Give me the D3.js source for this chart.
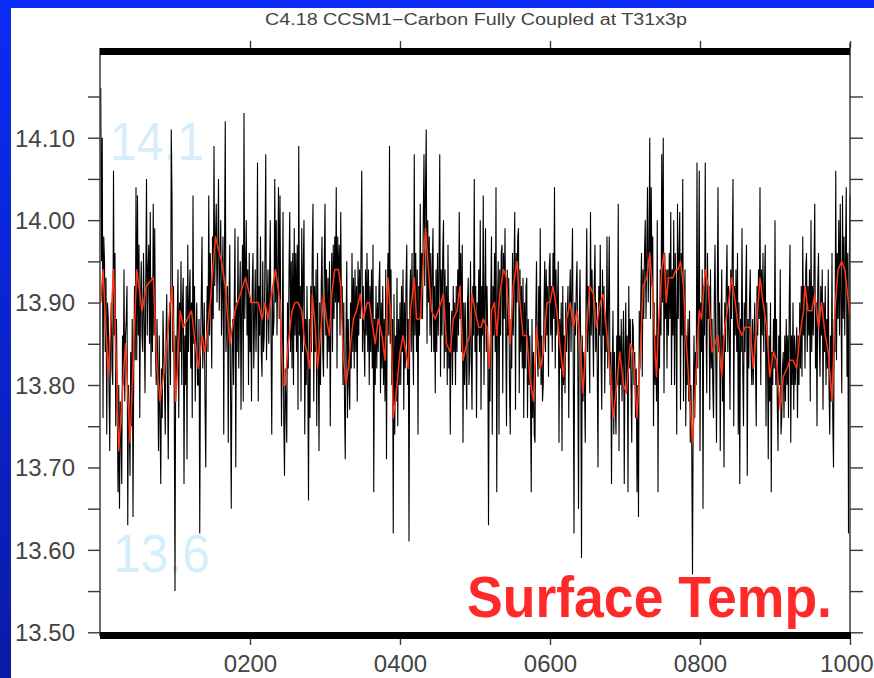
<!DOCTYPE html>
<html>
<head>
<meta charset="utf-8">
<script src="https://cdn.jsdelivr.net/npm/d3@7"></script>
<style>
html,body{margin:0;padding:0;background:#fff;}
svg{display:block;}
</style>
</head>
<body>
<svg id="chart" width="874" height="678"></svg>
<script>
// ---- Data (annual global mean surface temperature, years 1..1000) ----
const century1 = [14.16,13.95,14.10,13.76,13.98,13.95,13.84,13.93,13.74,13.90,
13.88,13.80,13.72,13.86,13.90,13.82,13.80,14.06,13.86,13.96,
13.75,13.88,13.78,13.67,13.80,13.65,13.78,13.74,13.68,13.86,
13.80,13.94,13.78,13.86,13.88,13.92,13.63,13.80,13.76,13.69,
13.84,13.75,13.88,13.64,13.82,13.92,13.83,14.04,13.83,14.03,
13.86,13.97,13.76,13.90,13.95,13.86,13.84,13.96,13.88,13.79,
13.92,14.05,13.86,13.94,13.97,13.85,14.01,13.81,13.93,13.84,
14.02,13.86,13.99,13.84,13.80,13.88,13.82,13.72,13.86,13.76,
13.68,13.82,13.76,13.89,13.84,13.80,13.74,13.86,13.91,13.80,
13.71,13.84,13.90,13.80,14.11,14.03,13.84,13.92,13.78,13.55];
const century2 = [13.86,13.80,13.88,13.94,13.76,13.90,13.84,13.95,13.80,13.90,
13.93,13.68,13.86,13.80,13.92,13.71,13.97,13.84,13.90,13.94,
13.82,13.90,13.76,14.03,13.85,13.92,13.78,13.86,13.90,13.80,
13.80,13.88,13.62,13.84,13.90,13.98,13.82,13.86,13.90,13.78,
13.70,13.86,13.92,13.84,14.03,13.86,13.96,13.90,13.82,13.98,
13.88,14.09,13.92,13.98,14.02,13.90,13.96,14.05,13.89,13.94,
14.00,13.86,13.92,13.98,13.74,13.96,14.12,13.84,13.88,13.92,
13.73,13.90,13.97,13.80,13.65,13.84,13.88,13.80,13.90,13.99,
13.70,13.90,13.84,13.98,13.82,13.90,13.95,13.77,13.90,13.97,
13.78,14.13,13.88,13.94,14.00,13.86,13.94,13.80,13.96,13.84];
const century3 = [13.90,13.78,13.92,13.96,13.82,13.88,13.94,13.84,13.90,14.07,
13.78,13.92,13.86,13.98,13.84,13.81,13.95,13.84,13.86,13.96,
14.08,13.83,13.90,13.94,13.85,13.92,14.00,13.86,13.74,13.92,
13.86,13.88,14.05,13.90,14.00,13.86,13.94,14.04,13.88,14.03,
13.88,13.75,13.84,14.01,13.76,13.69,13.82,13.78,13.73,13.90,
13.82,13.94,14.01,13.84,13.95,13.82,13.96,13.80,13.99,13.86,
13.96,13.84,13.97,13.77,14.09,13.86,13.92,13.78,13.99,13.84,
13.94,14.00,13.74,13.88,13.80,13.92,13.82,13.66,13.88,13.76,
13.92,13.84,13.96,14.02,13.78,13.92,13.84,13.94,13.75,13.96,
13.84,13.72,13.90,13.80,13.92,13.98,13.84,13.81,13.94,14.02];
const century4 = [13.86,13.94,13.82,13.93,13.84,13.95,13.75,13.90,13.96,13.84,
13.97,13.88,13.98,13.90,14.04,13.82,13.98,13.90,13.97,13.86,
14.01,13.88,13.92,13.80,13.90,13.78,13.71,13.86,13.95,13.76,
13.88,13.80,13.77,13.90,13.82,13.96,13.84,13.93,13.82,13.94,
13.84,13.92,13.78,13.95,13.86,13.94,13.88,13.96,14.06,13.84,
13.92,13.86,13.81,13.94,13.86,13.96,13.84,13.94,13.80,13.92,
13.84,13.94,13.82,13.97,13.67,13.88,13.80,13.92,13.82,13.90,
13.84,13.92,13.95,13.79,13.90,13.82,13.92,13.80,13.88,13.78,
13.94,13.71,13.90,13.96,13.86,14.09,13.85,13.94,13.80,13.88,
13.62,13.91,13.74,13.86,13.78,13.93,13.75,13.88,13.80,13.90];
const century5 = [13.80,13.92,13.84,13.94,13.77,13.90,13.82,13.92,13.97,13.80,
13.88,13.61,13.90,13.94,13.84,13.96,13.86,13.80,14.08,13.86,
13.96,13.84,13.94,13.74,13.92,13.86,14.02,13.88,13.96,13.88,
14.00,14.08,13.92,14.04,14.11,13.85,14.00,13.90,13.98,13.86,
13.96,13.84,13.94,13.99,13.84,13.92,13.79,13.94,13.84,13.96,
13.86,13.94,14.08,13.81,13.94,13.86,13.96,14.00,13.82,13.94,
13.84,13.92,13.80,13.97,13.82,13.90,13.74,13.86,13.89,13.80,
13.92,13.84,13.90,13.80,13.92,13.84,13.94,13.86,14.01,13.88,
13.96,13.84,13.97,13.73,13.90,13.80,13.90,13.82,13.77,13.90,
13.93,13.80,13.83,13.95,13.84,13.77,13.92,13.86,14.05,13.84];
const century6 = [13.92,13.76,13.90,13.86,13.94,13.84,14.00,13.77,13.92,13.86,
14.03,13.80,13.90,13.99,13.84,13.92,13.86,13.63,13.84,13.78,
13.90,13.98,13.74,13.92,13.86,13.96,13.84,14.04,13.67,13.90,
13.95,13.74,13.94,13.86,13.96,13.97,13.79,13.96,13.88,13.99,
13.86,13.75,13.94,13.86,13.93,13.80,13.74,13.88,13.82,13.96,
13.86,13.94,14.01,13.77,13.96,13.90,13.98,13.99,13.79,13.94,
13.84,13.92,13.82,13.93,13.76,13.90,13.82,13.92,13.93,13.76,
13.88,13.80,13.86,13.78,13.67,13.88,13.76,13.84,13.74,13.73,
13.88,13.95,13.84,13.81,13.92,13.82,13.99,13.80,13.86,13.78,
13.80,13.90,13.95,13.84,13.94,13.86,13.92,13.81,13.94,13.96];
const century7 = [13.86,13.92,13.84,13.96,13.88,14.04,13.82,13.94,13.86,13.90,
13.95,13.73,13.88,13.82,13.90,13.72,13.92,13.80,13.86,13.79,
13.90,13.84,13.88,13.92,13.76,13.90,13.94,13.84,13.92,13.99,
13.82,13.62,13.90,13.86,13.92,13.95,13.84,13.65,13.88,13.94,
13.84,13.59,13.86,13.78,13.84,13.80,13.73,13.90,13.99,13.84,
13.92,13.86,13.79,14.01,13.86,13.94,13.88,13.81,13.92,13.97,
13.84,13.90,13.82,13.70,13.92,13.86,13.97,13.84,13.77,13.94,
13.86,13.92,13.79,13.88,13.84,13.98,13.82,13.90,13.98,13.80,
13.84,13.68,13.82,13.89,13.74,13.84,13.78,13.74,13.86,13.80,
14.02,13.72,13.86,13.80,13.88,13.78,13.84,13.89,13.68,13.84];
const century8 = [13.90,13.79,13.86,13.67,13.92,13.82,13.88,13.80,13.73,13.88,
13.87,13.80,13.84,13.76,13.82,13.67,13.80,13.64,13.89,13.82,
13.90,13.96,13.81,13.94,13.88,13.96,14.00,13.88,13.96,14.04,
13.90,13.96,14.10,13.88,14.04,13.92,13.98,13.75,13.90,13.80,
13.86,13.78,14.00,13.67,13.88,13.82,13.94,13.86,14.08,13.90,
14.10,13.79,13.96,13.88,13.94,13.82,13.94,13.86,13.96,13.88,
14.01,13.80,13.94,13.86,14.00,13.80,13.96,13.88,13.74,14.02,
13.88,13.96,14.01,13.77,13.96,13.86,14.05,13.78,13.90,13.94,
13.75,13.86,13.80,13.88,13.78,13.89,13.73,13.80,13.72,13.57,
13.78,13.86,13.76,13.84,13.80,14.07,13.82,13.90,14.06,13.72];
const century9 = [13.90,13.84,13.94,13.65,13.92,13.86,14.07,13.88,13.79,13.96,
13.88,13.92,13.77,13.94,13.82,13.88,13.80,13.76,13.90,13.97,
13.84,13.73,13.90,14.04,13.84,13.90,13.72,13.86,13.94,13.78,
13.86,13.70,13.90,13.84,13.92,13.97,13.84,13.92,13.86,13.77,
13.94,13.88,13.96,14.05,13.75,13.92,13.86,13.94,13.84,13.96,
13.74,13.90,13.68,13.88,13.84,13.99,13.82,13.75,13.90,13.84,
13.92,13.97,13.69,13.88,13.82,13.90,13.94,13.84,13.80,13.88,
13.80,13.86,13.90,13.82,13.75,13.92,13.86,13.94,13.88,14.04,
13.80,13.94,13.86,13.96,13.84,13.92,13.97,13.75,13.90,13.84,
13.71,13.86,13.78,13.90,13.67,13.84,13.80,13.88,13.82,14.00];
const century10 = [13.80,13.88,13.78,13.72,13.86,13.80,13.94,13.74,13.76,13.82,
13.84,13.76,13.86,13.78,13.88,13.80,13.86,13.76,13.90,13.97,
13.73,13.86,13.80,13.90,13.77,13.86,13.80,13.84,13.87,13.76,
13.86,13.80,13.90,13.82,13.92,13.81,13.98,13.86,13.92,13.82,
13.94,13.96,13.84,13.92,13.86,13.94,13.78,14.00,13.84,13.92,
13.86,13.94,14.02,13.82,13.90,13.75,13.92,13.96,13.86,13.81,
13.92,13.86,13.94,13.77,13.90,13.84,13.92,13.80,13.88,13.82,
13.94,13.80,13.74,13.86,13.78,13.96,13.76,13.70,13.88,13.84,
14.06,13.83,13.96,13.88,14.00,13.86,14.02,13.90,13.79,14.03,
13.88,13.98,13.86,13.96,14.04,13.81,13.96,13.62,13.94,14.03];

// smoothed (running mean) series, red
const smoothYears = [1,4,11,18,25,34,40,49,56,62,71,76,80,87,96,101,107,111,122,127,131,136,140,147,154,162,167,173,180,194,202,211,216,220,224,234,240,
244,247,251,256,260,264,269,273,276,280,283,287,290,293,298,302,306,309,313,318,321,324,328,331,334,338,342,347,351,356,359,362,367,371,376,380,384,388,391,396,400,404,408,411,414,419,422,427,431,434,438,442,447,451,458,462,467,471,476,480,484,489,
493,496,500,505,508,511,516,519,522,526,529,533,538,542,547,551,556,560,564,569,573,578,582,587,591,596,600,604,609,613,618,622,627,631,636,640,644,649,653,658,662,667,671,676,680,684,689,693,698,702,707,711,716,720,724,729,
733,738,740,742,744,749,752,755,758,761,764,768,771,774,778,781,784,788,790,793,796,799,802,807,811,816,820,824,829,833,838,842,847,851,856,860,867,871,876,880,884,889,893,898,902,907,911,916,920,924,929,933,938,940,944,949,953,958,962,967,971,976,980,984,989,993,998,1000];
const smoothTemps = [13.90,13.94,13.81,13.94,13.72,13.85,13.73,13.94,13.89,13.92,13.93,13.82,13.78,13.83,13.92,13.78,13.89,13.87,13.89,13.85,13.82,13.86,13.84,13.90,13.98,13.95,13.92,13.85,13.89,13.93,13.90,13.90,13.88,13.90,13.88,13.94,13.90,
13.80,13.80,13.85,13.89,13.90,13.90,13.89,13.85,13.84,13.82,13.91,13.87,13.82,13.85,13.91,13.88,13.86,13.91,13.94,13.94,13.92,13.84,13.80,13.82,13.85,13.88,13.89,13.91,13.88,13.90,13.90,13.88,13.85,13.88,13.86,13.83,13.93,13.88,13.76,13.80,13.84,13.86,13.84,13.82,13.89,13.93,13.88,13.88,13.95,13.99,13.94,13.89,13.88,13.89,13.91,13.85,13.84,13.88,13.89,13.92,13.83,13.85,
13.86,13.91,13.89,13.87,13.87,13.88,13.87,13.82,13.89,13.90,13.86,13.91,13.94,13.93,13.85,13.92,13.95,13.90,13.86,13.86,13.81,13.78,13.87,13.82,13.84,13.90,13.90,13.92,13.89,13.85,13.81,13.88,13.90,13.87,13.89,13.85,13.79,13.87,13.92,13.91,13.87,13.90,13.91,13.86,13.82,13.76,13.80,13.84,13.80,13.79,13.85,13.84,13.76,13.83,13.92,13.93,
13.96,13.90,13.84,13.81,13.86,13.94,13.96,13.90,13.93,13.93,13.93,13.94,13.94,13.95,13.92,13.86,13.82,13.76,13.73,13.78,13.84,13.89,13.88,13.94,13.92,13.84,13.85,13.86,13.81,13.87,13.90,13.93,13.90,13.87,13.86,13.87,13.87,13.82,13.88,13.93,13.90,13.87,13.81,13.84,13.83,13.77,13.81,13.82,13.83,13.83,13.82,13.86,13.89,13.92,13.89,13.89,13.91,13.87,13.90,13.86,13.84,13.78,13.89,13.94,13.95,13.94,13.90,13.88];

const yTickValues = [13.50,13.55,13.60,13.65,13.70,13.75,13.80,13.85,13.90,13.95,14.00,14.05,14.10,14.15];
const yTickLabels = ["13.50","","13.60","","13.70","","13.80","","13.90","","14.00","","14.10",""];
const xTickValues = [200,400,600,800,1000];
const xTickLabels = ["0200","0400","0600","0800","1000"];
const titleText = "C4.18 CCSM1\u2212Carbon Fully Coupled at T31x3p";

// ---- Drawing ----
const svg = d3.select("#chart");
const W = 874, H = 678;

const defs = svg.append("defs");
const grad = defs.append("linearGradient").attr("id","bg").attr("x1","0").attr("y1","0").attr("x2","0").attr("y2","1");
grad.append("stop").attr("offset","0%").attr("stop-color","#0b2cf6");
grad.append("stop").attr("offset","100%").attr("stop-color","#0a1ba6");
svg.append("rect").attr("width",W).attr("height",H).attr("fill","url(#bg)");
svg.append("rect").attr("x",11).attr("y",8).attr("width",W-11).attr("height",H-8).attr("fill","#ffffff");

const x = d3.scaleLinear().domain([0,1000]).range([100,850]);
const y = d3.scaleLinear().domain([13.5,14.1]).range([632.3,137.7]);

const tickFont = "'Liberation Sans', Arial, Helvetica, sans-serif";
const axisColor = "#3a3a3a";
const textColor = "#444";

// title
svg.append("text").attr("x",476).attr("y",25).attr("text-anchor","middle")
  .attr("font-family",tickFont).attr("font-size",16).attr("fill",textColor)
  .attr("textLength",422).attr("lengthAdjust","spacingAndGlyphs")
  .text(titleText);

// big watermark labels
svg.append("text").attr("x",110).attr("y",160).attr("font-family","'Liberation Sans', Arial, sans-serif")
  .attr("font-size",54).attr("fill","#d6edfc").attr("textLength",94).attr("lengthAdjust","spacingAndGlyphs").text("14.1");
svg.append("text").attr("x",113).attr("y",572).attr("font-family","'Liberation Sans', Arial, sans-serif")
  .attr("font-size",54).attr("fill","#d6edfc").attr("textLength",97).attr("lengthAdjust","spacingAndGlyphs").text("13.6");

// data
const annual = [].concat(century1,century2,century3,century4,century5,century6,century7,century8,century9,century10);
const annualPts = annual.map((v,i)=>[i+1,v]);
const smoothPts = smoothYears.map((yr,i)=>[yr,smoothTemps[i]]);

const line = d3.line().x(d=>x(d[0])).y(d=>y(d[1]));
svg.append("path").datum(annualPts).attr("d",line)
  .attr("fill","none").attr("stroke","#000").attr("stroke-width",1.1).attr("stroke-linejoin","miter");
svg.append("path").datum(smoothPts).attr("d",line)
  .attr("fill","none").attr("stroke","#ff3514").attr("stroke-width",1.5).attr("stroke-linejoin","round");

// axes
const leftAxis = svg.append("g").attr("transform","translate(100,0)")
  .call(d3.axisLeft(y).tickValues(yTickValues).tickFormat((d,i)=>yTickLabels[i]).tickSize(12).tickPadding(13));
const rightAxis = svg.append("g").attr("transform","translate(850,0)")
  .call(d3.axisRight(y).tickValues(yTickValues).tickFormat("").tickSize(13));
const topAxis = svg.append("g").attr("transform","translate(0,48)")
  .call(d3.axisTop(x).tickValues(xTickValues).tickFormat("").tickSize(7));
const bottomAxis = svg.append("g").attr("transform","translate(0,639)")
  .call(d3.axisBottom(x).tickValues(xTickValues).tickFormat((d,i)=>xTickLabels[i]).tickSize(6));

[leftAxis,rightAxis,topAxis,bottomAxis].forEach(g=>{
  g.select(".domain").remove();
  g.selectAll(".tick line").attr("stroke",axisColor).attr("stroke-width",1.4);
  g.selectAll("text").attr("font-family",tickFont).attr("font-size",24).attr("fill",textColor);
});
leftAxis.selectAll("text").attr("dy","0.35em");
bottomAxis.selectAll("text").attr("y",33).attr("dy",null);
// keep the last label inside the window
bottomAxis.selectAll("text").filter(d=>d===1000).attr("text-anchor","end").attr("x",23);

// frame lines
svg.append("line").attr("x1",100).attr("x2",100).attr("y1",48).attr("y2",636).attr("stroke",axisColor).attr("stroke-width",1.5);
svg.append("line").attr("x1",850).attr("x2",850).attr("y1",43).attr("y2",639).attr("stroke",axisColor).attr("stroke-width",1.5);
// thick top & bottom bars
svg.append("rect").attr("x",100).attr("y",48).attr("width",750).attr("height",7).attr("fill","#000");
svg.append("rect").attr("x",100).attr("y",632).attr("width",751).attr("height",7).attr("fill","#000");

// annotation
svg.append("text").attr("x",467).attr("y",617).attr("font-family","'Liberation Sans', Arial, Helvetica, sans-serif")
  .attr("font-weight","bold").attr("font-size",57).attr("fill","#fe2a2a")
  .attr("textLength",365).attr("lengthAdjust","spacingAndGlyphs").text("Surface Temp.");
</script>
</body>
</html>
